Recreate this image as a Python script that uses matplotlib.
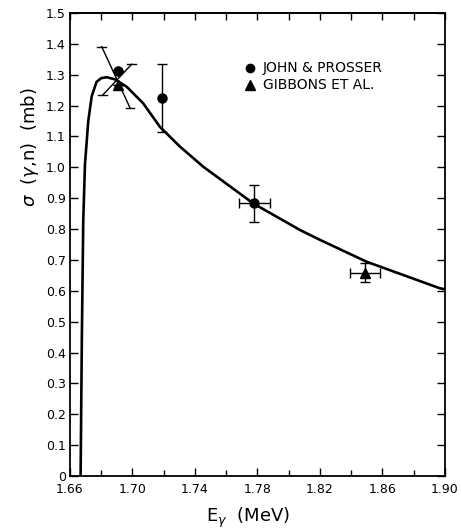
import matplotlib
matplotlib.use("Agg")
import matplotlib.pyplot as plt
from matplotlib.ticker import FixedLocator

# theory curve
curve_e = [1.6668, 1.6676, 1.6685, 1.6696, 1.6717, 1.6739, 1.6770, 1.6800,
           1.6835, 1.6888, 1.6963, 1.7069, 1.7176, 1.7240, 1.7304, 1.7453,
           1.7773, 1.8072, 1.8200, 1.8499, 1.8968, 1.9000]
curve_s = [0.000, 0.450, 0.830, 1.010, 1.150, 1.230, 1.277, 1.289,
           1.292, 1.285, 1.261, 1.207, 1.131, 1.099, 1.067, 1.002,
           0.883, 0.797, 0.765, 0.694, 0.608, 0.605]

# John & Prosser (circles)
jp_e = [1.691, 1.719, 1.778]
jp_s = [1.313, 1.224, 0.883]
jp_yerr = [0.0, 0.110, 0.059]
jp_xerr = [0.0, 0.0, 0.0098]

# Gibbons et al. (triangles)
gb_e = [1.691, 1.849]
gb_s = [1.267, 0.659]
gb_yerr = [0.0, 0.031]
gb_xerr = [0.0, 0.0096]

# the two slanted error bars at the peak
slant_e = [[1.6803, 1.6984], [1.6809, 1.6995]]
slant_s = [[1.391, 1.193], [1.234, 1.334]]

x_ticks = [1.66, 1.70, 1.74, 1.78, 1.82, 1.86, 1.90]
x_minor = [1.68, 1.72, 1.76, 1.80, 1.84, 1.88]
x_labels = ["1.66", "1.70", "1.74", "1.78", "1.82", "1.86", "1.90"]
y_ticks = [v / 10 for v in range(16)]
y_labels = ["0"] + [f"{v/10:.1f}" for v in range(1, 16)]

fig = plt.figure(figsize=(4.61, 5.29), dpi=100)
ax = fig.add_axes([0.1518, 0.1002, 0.8135, 0.8752])

ax.plot(curve_e, curve_s, color="black", lw=1.9, solid_capstyle="butt")

ax.errorbar(jp_e, jp_s, yerr=jp_yerr, xerr=jp_xerr, fmt="o", color="black",
            ms=6.5, elinewidth=1.0, capsize=3.5, capthick=1.0)
ax.errorbar(gb_e, gb_s, yerr=gb_yerr, xerr=gb_xerr, fmt="^", color="black",
            ms=7, elinewidth=1.0, capsize=3.5, capthick=1.0)

for xs, ys in zip(slant_e, slant_s):
    ax.plot(xs, ys, color="black", lw=1.0)
    for x, y in zip(xs, ys):
        ax.plot([x - 0.0028, x + 0.0028], [y, y], color="black", lw=1.0)

ax.set_xlim(1.66, 1.90)
ax.set_ylim(0, 1.5)

ax.xaxis.set_major_locator(FixedLocator(x_ticks))
ax.xaxis.set_minor_locator(FixedLocator(x_minor))
ax.set_xticklabels(x_labels)
ax.yaxis.set_major_locator(FixedLocator(y_ticks))
ax.set_yticklabels(y_labels)

ax.tick_params(axis="both", which="major", direction="in", length=6,
               width=1.0, labelsize=9, top=False, right=True)
ax.tick_params(axis="x", which="minor", direction="in", length=4,
               width=1.0, top=False)
ax.tick_params(axis="x", which="major", pad=5)
ax.tick_params(axis="y", which="major", pad=3)

# ticks along the top edge every 0.02
top = ax.secondary_xaxis("top")
top.xaxis.set_major_locator(FixedLocator(sorted(x_ticks + x_minor)))
top.tick_params(direction="in", length=5, width=1.0, labeltop=False)

for s in ax.spines.values():
    s.set_linewidth(1.3)
for s in top.spines.values():
    s.set_linewidth(1.3)

ax.set_xlabel(r"E$_\gamma$  (MeV)", fontsize=13)
ax.xaxis.set_label_coords(0.475, -0.065)
ax.set_ylabel(r"$\sigma$  ($\gamma$,n)  (mb)", fontsize=13)
ax.yaxis.set_label_coords(-0.078, 0.71)

# legend drawn by hand
ax.plot([0.48], [0.881], "o", color="black", ms=6, transform=ax.transAxes)
ax.plot([0.48], [0.845], "^", color="black", ms=6.5, transform=ax.transAxes)
ax.text(0.515, 0.881, "JOHN & PROSSER", transform=ax.transAxes,
        fontsize=10, va="center", ha="left")
ax.text(0.515, 0.845, "GIBBONS ET AL.", transform=ax.transAxes,
        fontsize=10, va="center", ha="left")

fig.savefig("out.png", dpi=100)
